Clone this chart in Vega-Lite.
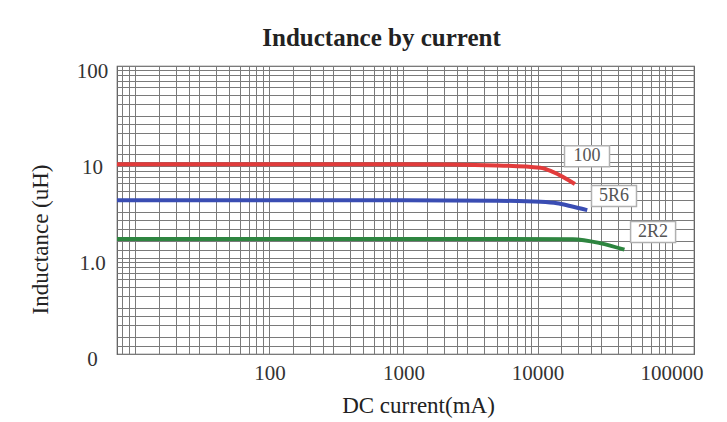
{
  "$schema": "https://vega.github.io/schema/vega-lite/v6.json",
  "width": 577,
  "height": 288,
  "autosize": {"type": "none"},
  "padding": {"left": 117, "top": 66, "right": 33, "bottom": 68},
  "background": "white",
  "config": {
    "font": "Liberation Serif",
    "view": {"stroke": "#555", "strokeWidth": 1.2}
  },
  "title": {
    "text": "Inductance by current",
    "fontSize": 25,
    "fontWeight": "bold",
    "font": "Liberation Serif",
    "color": "#222",
    "anchor": "middle",
    "frame": "group",
    "dx": -24,
    "offset": 9
  },
  "datasets": {
    "curves": [
      {"series": "100", "current": 7.3, "L": 9.5},
      {"series": "100", "current": 1000, "L": 9.45},
      {"series": "100", "current": 5000, "L": 9.2},
      {"series": "100", "current": 10500, "L": 8.7},
      {"series": "100", "current": 13000, "L": 7.9},
      {"series": "100", "current": 19000, "L": 5.9},
      {"series": "5R6", "current": 7.3, "L": 4.0},
      {"series": "5R6", "current": 1000, "L": 4.0},
      {"series": "5R6", "current": 5000, "L": 3.95},
      {"series": "5R6", "current": 10500, "L": 3.85},
      {"series": "5R6", "current": 14000, "L": 3.72},
      {"series": "5R6", "current": 17500, "L": 3.48},
      {"series": "5R6", "current": 23500, "L": 3.15},
      {"series": "2R2", "current": 7.3, "L": 1.58},
      {"series": "2R2", "current": 5000, "L": 1.58},
      {"series": "2R2", "current": 18400, "L": 1.57},
      {"series": "2R2", "current": 29200, "L": 1.43},
      {"series": "2R2", "current": 44500, "L": 1.22}
    ],
    "tags": [
      {"label": "100", "current": 23400, "L": 11.5},
      {"label": "5R6", "current": 37200, "L": 4.43},
      {"label": "2R2", "current": 72800, "L": 1.87}
    ]
  },
  "layer": [
    {
      "data": {"name": "curves"},
      "mark": {"type": "line", "strokeWidth": 4, "interpolate": "monotone"},
      "encoding": {
        "x": {
          "field": "current",
          "type": "quantitative",
          "scale": {"type": "log", "domain": [7.3, 147000], "nice": false},
          "axis": {
            "values": [8, 9, 10, 15, 20, 25, 30, 40, 50, 60, 70, 80, 90, 100, 150, 200, 250, 300, 400, 500, 600, 700, 800, 900, 1000, 1500, 2000, 2500, 3000, 4000, 5000, 6000, 7000, 8000, 9000, 10000, 15000, 20000, 25000, 30000, 40000, 50000, 60000, 70000, 80000, 90000, 100000],
            "labelExpr": "datum.value == 100 ? '100' : datum.value == 1000 ? '1000' : datum.value == 10000 ? '10000' : datum.value == 100000 ? '100000' : ''",
            "grid": true,
            "gridColor": "#7a7a7a",
            "gridWidth": 1,
            "ticks": false,
            "tickSize": 0,
            "domain": false,
            "labelFontSize": 21,
            "labelColor": "#333",
            "labelPadding": 8,
            "labelOverlap": false,
            "labelFlush": false,
            "labelBound": false,
            "title": "DC current(mA)",
            "titleFontSize": 23,
            "titleFontWeight": "normal",
            "titleColor": "#222",
            "titleX": 301,
            "titleY": 51,
            "titleAlign": "center",
            "titleBaseline": "middle"
          }
        },
        "y": {
          "field": "L",
          "type": "quantitative",
          "scale": {"type": "log", "domain": [0.1, 100], "nice": false},
          "axis": {
            "values": [0.1, 0.12, 0.15, 0.2, 0.25, 0.3, 0.4, 0.5, 0.6, 0.7, 0.8, 0.9, 1, 1.2, 1.5, 2, 2.5, 3, 4, 5, 6, 7, 8, 9, 10, 12, 15, 20, 25, 30, 40, 50, 60, 70, 80, 90, 100],
            "labelExpr": "datum.value == 100 ? '100' : datum.value == 10 ? '10' : datum.value == 1 ? '1.0' : datum.value == 0.1 ? '0' : ''",
            "grid": true,
            "gridColor": "#7a7a7a",
            "gridWidth": 1,
            "ticks": false,
            "tickSize": 0,
            "domain": false,
            "labelFontSize": 21,
            "labelColor": "#333",
            "labelAlign": "center",
            "labelBaseline": "middle",
            "labelPadding": 25,
            "labelOffset": 5,
            "labelOverlap": false,
            "labelFlush": false,
            "labelBound": false,
            "title": "Inductance (uH)",
            "titleFontSize": 23,
            "titleFontWeight": "normal",
            "titleColor": "#222",
            "titleX": -77,
            "titleY": 173,
            "titleAlign": "center",
            "titleBaseline": "middle",
            "titleAngle": -90
          }
        },
        "color": {
          "field": "series",
          "type": "nominal",
          "scale": {"domain": ["100", "5R6", "2R2"], "range": ["#e23b3b", "#3a4db3", "#2e8540"]},
          "legend": null
        }
      }
    },
    {
      "data": {"name": "tags"},
      "mark": {"type": "point", "shape": "M-1,-0.467H1V0.467H-1Z", "size": 2025, "filled": false, "fill": "white", "fillOpacity": 1, "stroke": "#b0b0b0", "strokeWidth": 1.5, "opacity": 1},
      "encoding": {
        "x": {"field": "current", "type": "quantitative"},
        "y": {"field": "L", "type": "quantitative"}
      }
    },
    {
      "data": {"name": "tags"},
      "mark": {"type": "text", "fontSize": 18, "color": "#555", "baseline": "middle", "align": "center"},
      "encoding": {
        "x": {"field": "current", "type": "quantitative"},
        "y": {"field": "L", "type": "quantitative"},
        "text": {"field": "label"}
      }
    }
  ]
}
